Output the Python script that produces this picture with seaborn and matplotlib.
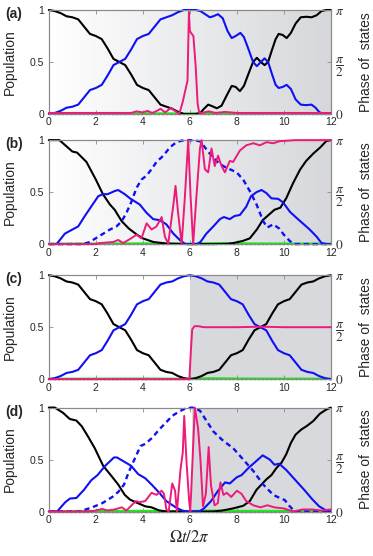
import numpy as np
import matplotlib
matplotlib.use("Agg")
import matplotlib.pyplot as plt
from matplotlib.colors import LinearSegmentedColormap
import seaborn as sns

# ---- data (population 0..1, phase in units of pi) ----
t_half = [0, .25, .5, .75, 1, 1.25, 1.5, 1.75, 2, 2.25, 2.5, 2.75, 3, 3.25, 3.5, 3.75,
          4, 4.25, 4.5, 4.75, 5, 5.25, 5.5, 5.75, 6]

# panel (a)
a_black_t = t_half + [6.25, 6.45, 6.6, 6.78, 6.95, 7.15, 7.35, 7.55, 7.78, 7.95, 8.13, 8.3,
                      8.5, 8.69, 8.85, 9.02, 9.18, 9.33, 9.5, 9.65, 9.78, 9.95, 10.12, 10.3,
                      10.5, 10.72, 10.95, 11.18, 11.4, 11.6, 11.8, 12.0]
a_black = [1.0, 0.99, 0.97, 0.94, 0.93, 0.91, 0.84, 0.77, 0.75, 0.72, 0.63, 0.53, 0.5, 0.47,
           0.38, 0.28, 0.25, 0.23, 0.16, 0.09, 0.07, 0.05, 0.02, 0.0, 0.0,
           0.0, 0.01, 0.05, 0.09, 0.075, 0.055, 0.08, 0.17, 0.27, 0.26, 0.22, 0.27,
           0.39, 0.5, 0.54, 0.5, 0.47, 0.5, 0.62, 0.72, 0.77, 0.76, 0.73, 0.78,
           0.87, 0.93, 0.935, 0.93, 0.95, 0.99, 1.0, 1.0]
a_blue_t = t_half + [6.25, 6.45, 6.65, 6.85, 7.0, 7.2, 7.4, 7.6, 7.78, 7.95, 8.15, 8.3,
                     8.5, 8.69, 8.85, 9.02, 9.18, 9.33, 9.5, 9.65, 9.78, 9.95, 10.12, 10.3,
                     10.5, 10.72, 10.95, 11.18, 11.35, 11.5, 11.65, 12.0]
a_blue = [0.0, 0.01, 0.03, 0.06, 0.07, 0.09, 0.16, 0.23, 0.25, 0.28, 0.37, 0.47, 0.5, 0.53,
          0.62, 0.72, 0.75, 0.77, 0.84, 0.91, 0.93, 0.95, 0.98, 1.0, 1.0,
          1.0, 0.99, 0.96, 0.93, 0.94, 0.96, 0.92, 0.8, 0.73, 0.75, 0.78, 0.74,
          0.62, 0.5, 0.46, 0.5, 0.535, 0.5, 0.38, 0.28, 0.25, 0.26, 0.28, 0.24,
          0.14, 0.09, 0.085, 0.09, 0.06, 0.02, 0.0, 0.0]
a_phase_t = [0, 1, 2, 3, 3.5, 3.73, 4.0, 4.2, 4.4, 4.6, 4.75, 4.95, 5.2, 5.3, 5.43, 5.55,
             5.7, 5.8, 5.9, 5.96, 6.0, 6.05, 6.15, 6.25, 6.33, 6.4, 6.5, 6.8, 7.1, 7.5,
             8, 9, 10, 11, 12]
a_phase = [0.01, 0.01, 0.01, 0.01, 0.01, 0.025, 0.015, 0.03, 0.01, 0.03, 0.05, 0.015, 0.06,
           0.04, 0.02, 0.0, 0.12, 0.22, 0.32, 0.98, 0.8, 0.78, 0.75, 0.45, 0.1, 0.01, 0.01,
           0.025, 0.01, 0.02, 0.01, 0.01, 0.01, 0.01, 0.01]

# panel (b)
b_black_t = [0, 0.45, 0.7, 1.0, 1.2, 1.6, 2.0, 2.3, 2.6, 2.8, 3.1, 3.4, 3.75, 4.0, 4.45,
             5.0, 6.0, 7.0, 7.6, 7.85, 8.25, 8.55, 8.85, 9.1, 9.35, 9.6, 9.85, 10.1, 10.4,
             10.7, 10.95, 11.25, 11.55, 11.8, 12.0]
b_black = [1.0, 1.0, 0.95, 0.89, 0.88, 0.79, 0.62, 0.48, 0.38, 0.33, 0.22, 0.15, 0.09,
           0.055, 0.02, 0.005, 0.0, 0.0, 0.003, 0.01, 0.03, 0.055, 0.14, 0.23, 0.28, 0.33,
           0.35, 0.44, 0.59, 0.72, 0.8, 0.87, 0.93, 0.99, 1.0]
b_blue_t = [0, 0.33, 0.68, 0.96, 1.25, 1.53, 1.8, 2.1, 2.3, 2.5, 2.8, 2.95, 3.23, 3.45,
            3.66, 3.87, 4.16, 4.44, 4.72, 5.0, 5.3, 5.57, 5.8, 6.3, 6.45, 6.7, 7.0, 7.28,
            7.45, 7.7, 7.9, 8.13, 8.4, 8.6, 8.84, 9.05, 9.26, 9.47, 9.76, 9.97, 10.26,
            10.55, 10.8, 11.1, 11.4, 11.6, 11.8, 12]
b_blue = [0, 0, 0.1, 0.135, 0.17, 0.27, 0.36, 0.46, 0.48, 0.48, 0.51, 0.52, 0.48, 0.44,
          0.41, 0.38, 0.3, 0.24, 0.23, 0.19, 0.1, 0.04, 0.0, 0.0, 0.02, 0.1, 0.17, 0.24,
          0.26, 0.24, 0.27, 0.28, 0.36, 0.46, 0.5, 0.52, 0.49, 0.44, 0.435, 0.4, 0.31,
          0.25, 0.2, 0.14, 0.07, 0.01, 0.0, 0.0]
b_dash_t = [0, 1.46, 1.74, 2.17, 2.6, 2.88, 3.1, 3.3, 3.5, 3.73, 3.94, 4.16, 4.37, 4.58,
            4.87, 5.15, 5.43, 5.65, 6.0, 6.43, 6.64, 6.85, 7.13, 7.42, 7.7, 7.99, 8.27,
            8.55, 8.84, 9.12, 9.3, 9.55, 9.8, 10.0, 10.25, 10.45, 12]
b_dash = [0, 0, 0.02, 0.08, 0.14, 0.17, 0.22, 0.3, 0.4, 0.54, 0.62, 0.66, 0.72, 0.79,
          0.85, 0.93, 0.98, 0.995, 1.0, 0.99, 0.93, 0.87, 0.8, 0.75, 0.72, 0.69, 0.62,
          0.51, 0.38, 0.22, 0.16, 0.19, 0.15, 0.09, 0.03, 0.0, 0.0]
b_phase_t = [0, 2.0, 2.17, 2.74, 2.95, 3.16, 3.5, 3.73, 3.94, 4.16, 4.37, 4.58, 4.8, 4.94,
             5.08, 5.3, 5.39, 5.5, 5.65, 5.79, 5.93, 6.03, 6.14, 6.28, 6.43, 6.5, 6.64,
             6.78, 6.92, 7.06, 7.2, 7.35, 7.49, 7.7, 7.84, 8.13, 8.4, 8.7, 8.98, 9.26,
             9.55, 9.83, 10.5, 12]
b_phase = [0, 0, 0.01, 0.02, 0.04, 0.01, 0.055, 0.09, 0.055, 0.2, 0.14, 0.17, 0.26, 0.07,
           0.005, 0.38, 0.56, 0.3, 0.0, 0.46, 1.0, 0.46, 0.0, 0.46, 0.92, 1.0, 0.72, 0.69,
           0.92, 0.75, 0.85, 0.75, 0.69, 0.8, 0.79, 0.9, 0.95, 0.97, 0.95, 0.98, 0.97,
           0.99, 1.0, 1.0]

# panel (c)
c_t = t_half + [6.25, 6.5, 6.75, 7, 7.25, 7.5, 7.75, 8, 8.25, 8.5, 8.75, 9, 9.25, 9.5,
                9.75, 10, 10.25, 10.5, 10.75, 11, 11.25, 11.5, 11.75, 12]
c_black = [1.0, 0.99, 0.97, 0.94, 0.93, 0.91, 0.84, 0.77, 0.75, 0.72, 0.63, 0.53, 0.5, 0.47,
           0.38, 0.28, 0.25, 0.23, 0.16, 0.09, 0.07, 0.06, 0.03, 0.01, 0.0,
           0.01, 0.03, 0.06, 0.07, 0.09, 0.16, 0.23, 0.25, 0.28, 0.38, 0.47, 0.5, 0.53,
           0.63, 0.72, 0.75, 0.77, 0.84, 0.91, 0.93, 0.94, 0.97, 0.99, 1.0]
c_blue = [0.0, 0.01, 0.03, 0.06, 0.07, 0.09, 0.16, 0.23, 0.25, 0.28, 0.37, 0.47, 0.5, 0.53,
          0.62, 0.72, 0.75, 0.77, 0.84, 0.91, 0.93, 0.94, 0.97, 0.99, 1.0,
          0.99, 0.97, 0.94, 0.93, 0.91, 0.84, 0.77, 0.75, 0.72, 0.62, 0.53, 0.5, 0.47,
          0.37, 0.28, 0.25, 0.23, 0.16, 0.09, 0.07, 0.06, 0.03, 0.01, 0.0]
c_phase_t = [0, 5.98, 6.05, 6.1, 6.2, 6.35, 6.6, 7, 8, 9, 10, 11, 12]
c_phase = [0, 0, 0.3, 0.48, 0.51, 0.51, 0.5, 0.5, 0.5, 0.505, 0.5, 0.5, 0.5]

# panel (d)
d_black_t = [0, 0.25, 0.6, 0.89, 1.17, 1.4, 1.67, 1.95, 2.31, 2.67, 2.95, 3.23, 3.45, 3.74,
             4.1, 4.37, 4.7, 5.0, 6.0, 7.0, 7.4, 7.84, 8.27, 8.55, 8.84, 9.05, 9.26, 9.47,
             9.69, 9.9, 10.1, 10.3, 10.5, 10.75, 10.96, 11.25, 11.53, 11.8, 12]
d_black = [1.0, 1.0, 0.95, 0.89, 0.875, 0.82, 0.72, 0.61, 0.44, 0.34, 0.26, 0.16, 0.115,
           0.085, 0.05, 0.04, 0.01, 0.0, 0.0, 0.0, 0.01, 0.03, 0.055, 0.1, 0.21, 0.26,
           0.31, 0.35, 0.42, 0.47, 0.55, 0.66, 0.74, 0.79, 0.82, 0.87, 0.94, 0.98, 1.0]
d_blue_t = [0, 0.35, 0.7, 0.9, 1.17, 1.5, 1.8, 2.07, 2.4, 2.77, 2.9, 3.2, 3.5, 3.8, 4.1,
            4.37, 4.7, 5.0, 5.4, 5.67, 5.85, 6.4, 6.6, 6.9, 7.2, 7.5, 7.7, 8.0, 8.2, 8.5,
            8.8, 8.9, 9.1, 9.4, 9.6, 9.8, 10.1, 10.5, 10.9, 11.2, 11.5, 11.8, 12]
d_blue = [0, 0, 0.09, 0.125, 0.13, 0.21, 0.3, 0.35, 0.44, 0.52, 0.52, 0.48, 0.44, 0.36,
          0.32, 0.26, 0.18, 0.1, 0.04, 0.01, 0, 0, 0.03, 0.1, 0.2, 0.28, 0.27, 0.33, 0.35,
          0.42, 0.48, 0.5, 0.54, 0.5, 0.45, 0.46, 0.4, 0.3, 0.2, 0.12, 0.05, 0.01, 0]
d_dash_t = [0, 1.3, 1.84, 2.27, 2.7, 2.96, 3.2, 3.4, 3.7, 3.9, 4.1, 4.4, 4.7, 4.96, 5.25,
            5.53, 5.8, 6.1, 6.43, 7.0, 7.42, 7.84, 8.27, 8.7, 9.12, 9.55, 9.83, 10.04,
            10.25, 10.47, 12]
d_dash = [0, 0, 0.04, 0.08, 0.14, 0.19, 0.26, 0.38, 0.53, 0.63, 0.65, 0.71, 0.79, 0.85,
          0.92, 0.96, 0.99, 1.0, 0.97, 0.77, 0.68, 0.61, 0.5, 0.39, 0.26, 0.16, 0.13, 0.11,
          0.05, 0.0, 0.0]
d_phase_t = [0, 1.5, 1.9, 2.27, 2.5, 2.8, 3.1, 3.3, 3.7, 3.85, 4.1, 4.37, 4.58, 4.8, 4.9,
             5.0, 5.1, 5.25, 5.37, 5.45, 5.6, 5.7, 5.76, 5.86, 5.97, 6.02, 6.21, 6.35,
             6.45, 6.56, 6.68, 6.8, 6.9, 7.05, 7.19, 7.3, 7.43, 7.57, 7.76, 8.0, 8.2, 8.4,
             8.7, 9.0, 9.3, 9.6, 10.0, 10.4, 10.8, 11.2, 11.6, 12]
d_phase = [0, 0, 0.005, 0.025, 0.01, 0.02, 0.04, 0.01, 0.1, 0.09, 0.1, 0.18, 0.16, 0.2,
           0.17, 0.02, 0.0, 0.27, 0.2, 0.0, 0.4, 0.57, 0.92, 0.47, 0.1, 0.0, 1.0, 0.8,
           0.5, 0.05, 0.17, 0.62, 0.25, 0.06, 0.08, 0.28, 0.16, 0.18, 0.14, 0.2, 0.17,
           0.1, 0.06, 0.04, 0.06, 0.04, 0.03, 0.0, 0.02, 0.02, 0.01, 0.02]

# third level population (stays ~0 in every panel)
green_t = [0, 2, 4, 6, 7, 8, 10, 12]
green = [0.004, 0.005, 0.006, 0.004, 0.009, 0.006, 0.005, 0.004]

panels = [
    ("(a)", a_black_t, a_black, a_blue_t, a_blue, None, None, a_phase_t, a_phase, "grad"),
    ("(b)", b_black_t, b_black, b_blue_t, b_blue, b_dash_t, b_dash, b_phase_t, b_phase, "grad"),
    ("(c)", c_t, c_black, c_t, c_blue, None, None, c_phase_t, c_phase, 6.0),
    ("(d)", d_black_t, d_black, d_blue_t, d_blue, d_dash_t, d_dash, d_phase_t, d_phase, 6.08),
]

sns.set_style("ticks")
plt.rcParams["font.family"] = ["Liberation Sans", "DejaVu Sans"]
plt.rcParams["mathtext.fontset"] = "stix"

BLUE = "#1010f5"
PINK = "#ee1a7a"
GREEN = "#22e622"
SHADE = "#d8d9dd"
SPINE = "#8a8a8a"

fig = plt.figure(figsize=(3.73, 5.56), dpi=100)
bottoms = [0.795, 0.561, 0.318, 0.080]
grad_cmap = LinearSegmentedColormap.from_list("g", ["#ffffff", "#d5d7db"])

for (lab, bt, bv, ut, uv, dt, dv, pt, pv, bg), b in zip(panels, bottoms):
    ax = fig.add_axes([0.131, b, 0.756, 0.187])
    ax.set_xlim(0, 12)
    ax.set_ylim(0, 1)

    if bg == "grad":
        ax.imshow(np.linspace(0, 1, 256).reshape(1, -1), extent=[0, 12, 0, 1],
                  aspect="auto", cmap=grad_cmap, zorder=0)
    else:
        ax.axvspan(bg, 12, color=SHADE, lw=0, zorder=0)

    sns.lineplot(x=green_t, y=green, ax=ax, color=GREEN, linewidth=1.6,
                 estimator=None, sort=False, clip_on=False, zorder=2)
    sns.lineplot(x=green_t, y=[0.0] * len(green_t), ax=ax, color="#1c8a1c",
                 linewidth=1.0, linestyle=(0, (1.5, 1.5)), estimator=None,
                 sort=False, clip_on=False, zorder=2)
    sns.lineplot(x=bt, y=bv, ax=ax, color="black", linewidth=1.5,
                 estimator=None, sort=False, clip_on=False, zorder=3)
    sns.lineplot(x=ut, y=uv, ax=ax, color=BLUE, linewidth=1.5,
                 estimator=None, sort=False, clip_on=False, zorder=3)
    if dt is not None:
        sns.lineplot(x=dt, y=dv, ax=ax, color=BLUE, linewidth=1.7,
                     linestyle=(0, (2.2, 1.6)), estimator=None, sort=False,
                     clip_on=False, zorder=3)

    ax.set_xticks([0, 2, 4, 6, 8, 10, 12])
    ax.set_yticks([0, 0.5, 1])
    ax.set_yticklabels(["0", "0.5", "1"])
    ax.tick_params(direction="in", length=3, width=0.6, labelsize=7.5, pad=2.5,
                   top=True, color=SPINE)
    ax.tick_params(axis="y", pad=3.5)
    ax.set_ylabel("Population", fontsize=10)
    ax.yaxis.set_label_coords(-0.115, 0.5)
    ax.set_xlabel("")
    for s in ax.spines.values():
        s.set_color(SPINE)
        s.set_linewidth(0.8)

    ax2 = ax.twinx()
    ax2.set_ylim(0, np.pi)
    sns.lineplot(x=pt, y=[v * np.pi for v in pv], ax=ax2, color=PINK, linewidth=1.4,
                 estimator=None, sort=False, clip_on=False, zorder=4)
    ax2.set_yticks([0, np.pi / 2, np.pi])
    ax2.set_yticklabels([r"$0$", r"$\dfrac{\pi}{2}$", r"$\pi$"])
    ax2.tick_params(direction="in", length=3, width=0.6, labelsize=9.5, pad=3,
                    color=SPINE, labelcolor="#333333")
    ax2.set_ylabel("Phase of  states", fontsize=10, rotation=90)
    ax2.yaxis.set_label_coords(1.1, 0.5)
    for s in ax2.spines.values():
        s.set_color(SPINE)
        s.set_linewidth(0.8)

    ax.text(-0.155, 0.96, lab, transform=ax.transAxes, fontsize=10,
            fontweight="bold", ha="left", va="center")

ax.set_xlabel(r"$\Omega t/2\pi$", fontsize=12, labelpad=3)

fig.savefig("out.png", dpi=100)
